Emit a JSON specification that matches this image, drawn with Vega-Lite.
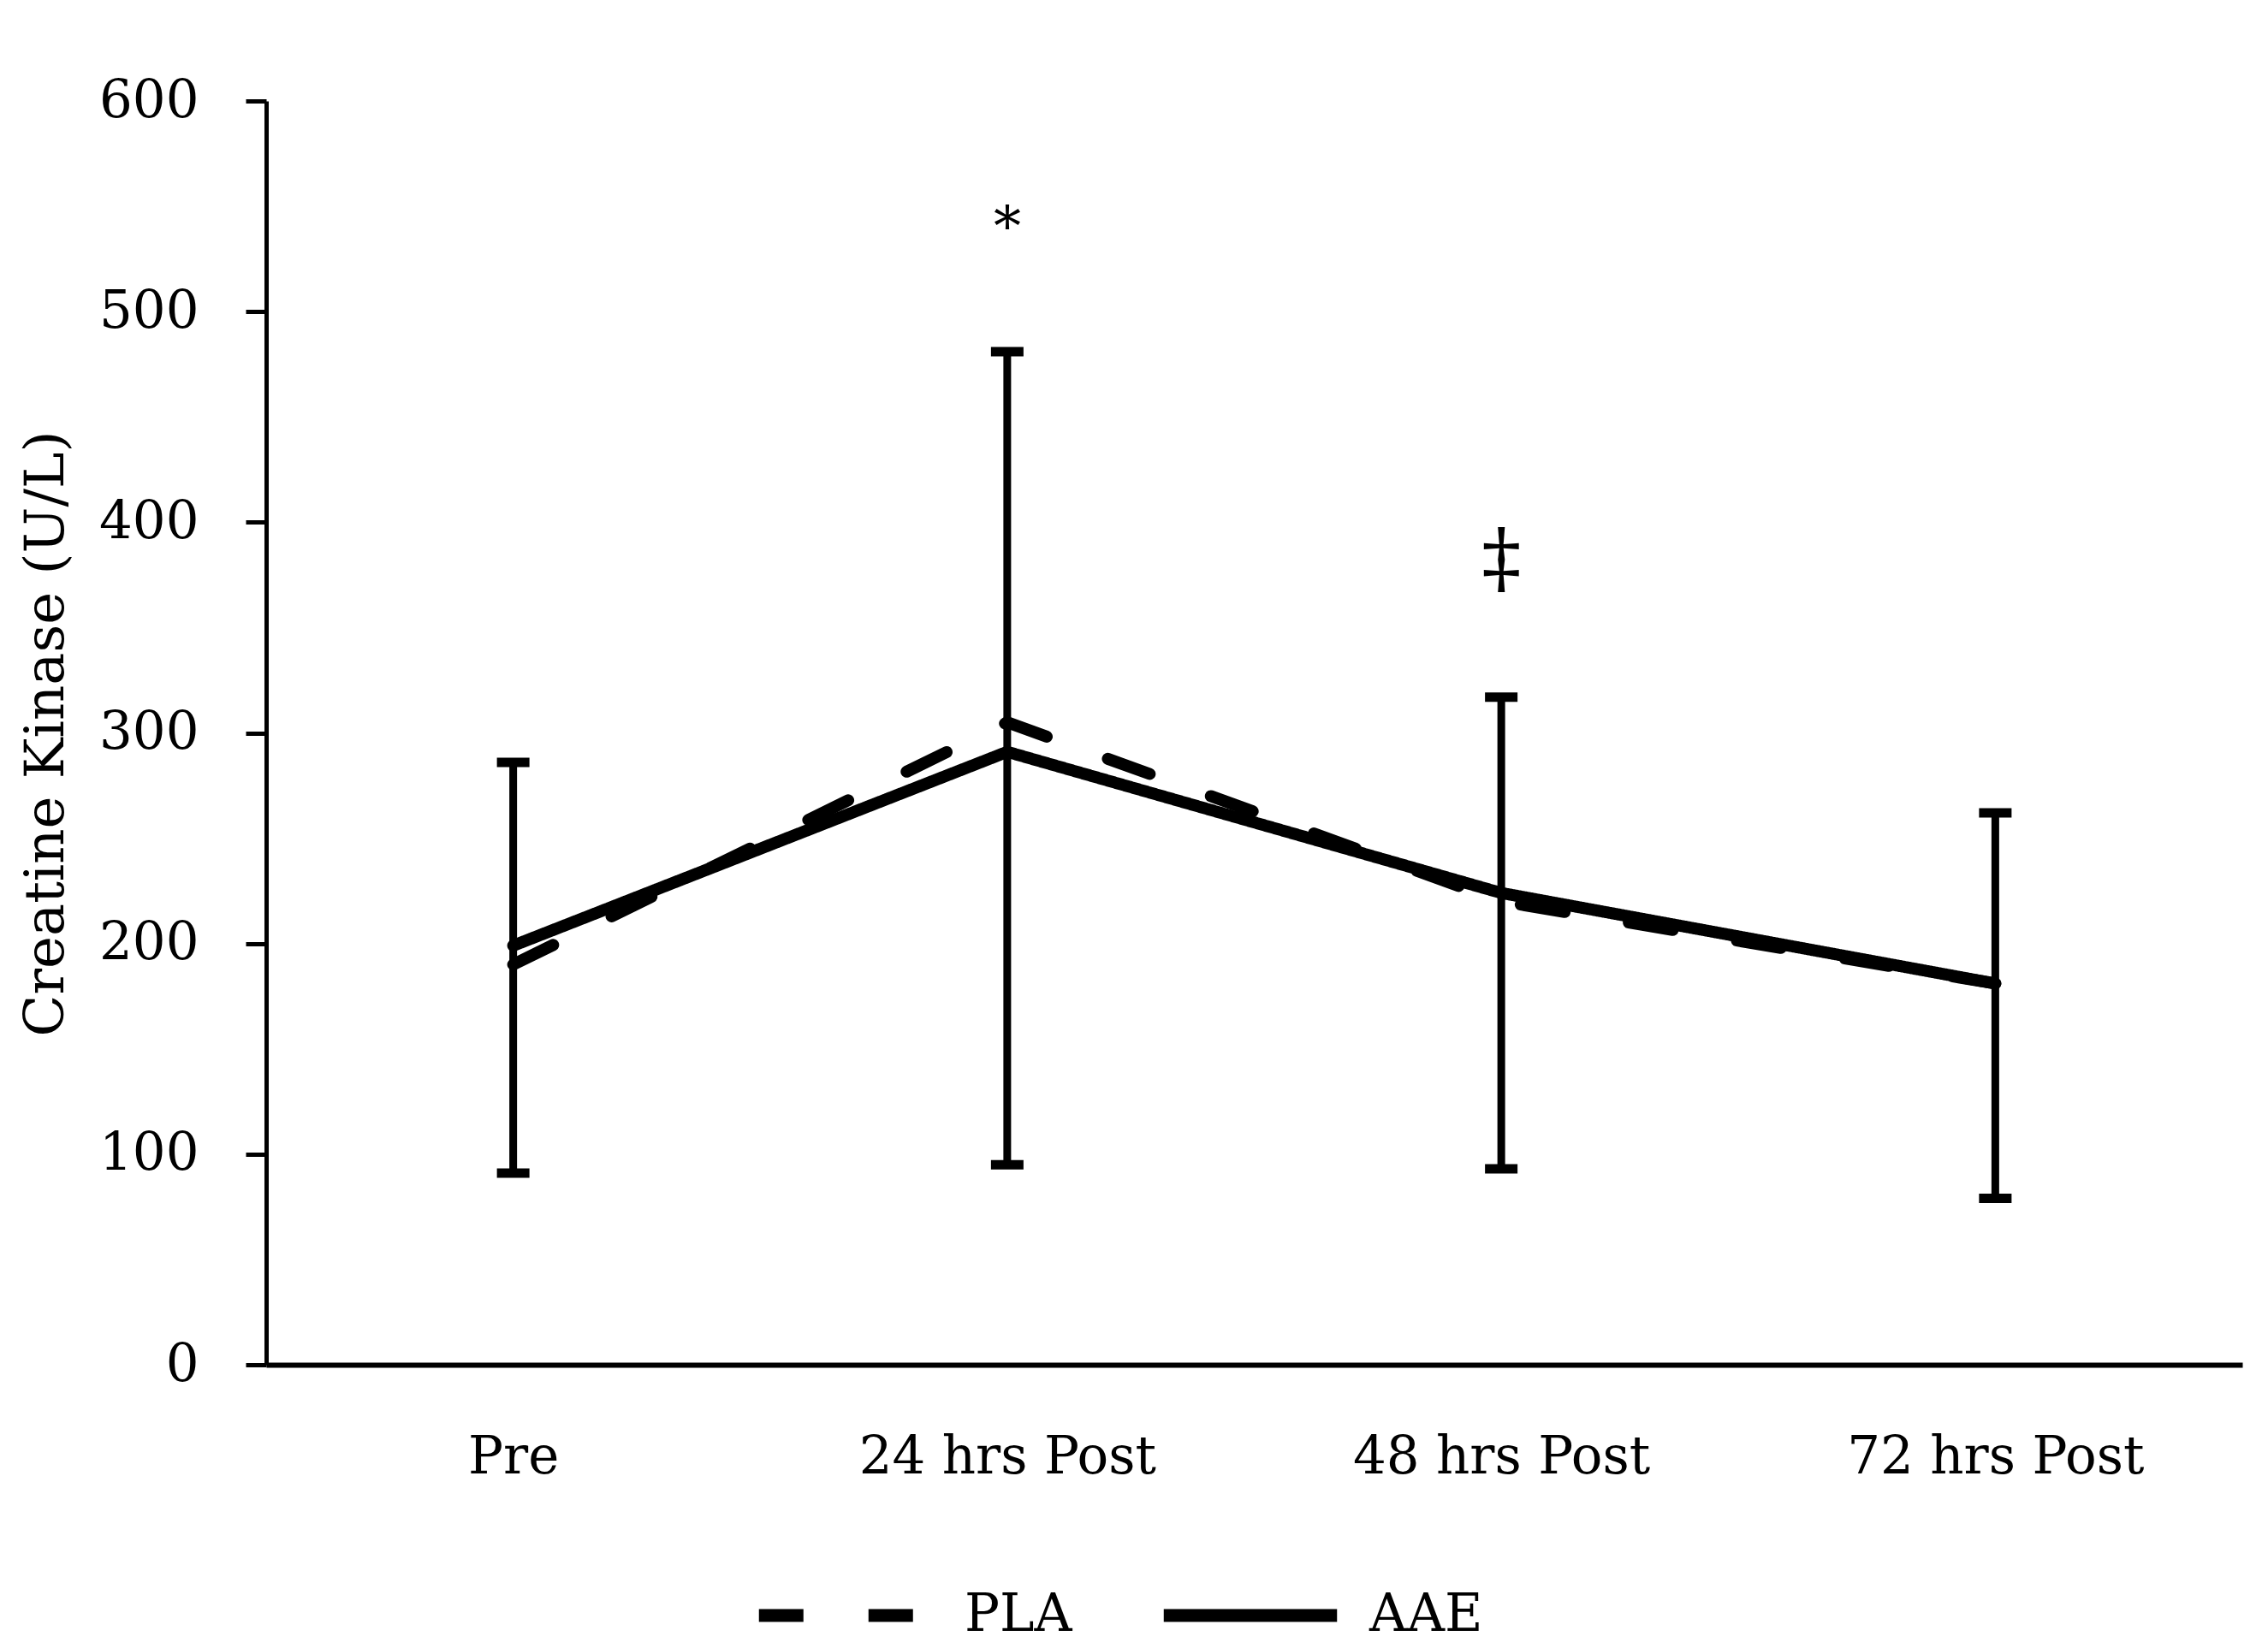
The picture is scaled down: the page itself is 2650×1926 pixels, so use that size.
{
  "$schema": "https://vega.github.io/schema/vega-lite/v6.json",
  "width": 2309,
  "height": 1477,
  "autosize": {"type": "none"},
  "padding": {"left": 311, "top": 118, "right": 30, "bottom": 331},
  "background": "white",
  "datasets": {
    "means": [
      {"time": "Pre", "group": "PLA", "ck": 190},
      {"time": "24 hrs Post", "group": "PLA", "ck": 305},
      {"time": "48 hrs Post", "group": "PLA", "ck": 220},
      {"time": "72 hrs Post", "group": "PLA", "ck": 181},
      {"time": "Pre", "group": "AAE", "ck": 199},
      {"time": "24 hrs Post", "group": "AAE", "ck": 291},
      {"time": "48 hrs Post", "group": "AAE", "ck": 224},
      {"time": "72 hrs Post", "group": "AAE", "ck": 181}
    ],
    "errors": [
      {"time": "Pre", "lo": 91, "hi": 286},
      {"time": "24 hrs Post", "lo": 95, "hi": 481},
      {"time": "48 hrs Post", "lo": 93, "hi": 317},
      {"time": "72 hrs Post", "lo": 79, "hi": 262}
    ],
    "star": [
      {"time": "24 hrs Post", "y": 539, "label": "*"}
    ],
    "dagger": [
      {"time": "48 hrs Post", "y": 382, "label": "‡"}
    ]
  },
  "layer": [
    {
      "data": {"name": "errors"},
      "mark": {"type": "rule", "color": "black", "strokeWidth": 9},
      "encoding": {
        "x": {"field": "time", "type": "nominal", "title": null, "sort": ["Pre", "24 hrs Post", "48 hrs Post", "72 hrs Post"], "scale": {"type": "point", "padding": 0.5}},
        "y": {"field": "lo", "type": "quantitative", "title": "Creatine Kinase (U/L)", "scale": {"domain": [0, 600], "nice": false}, "axis": {"values": [0, 100, 200, 300, 400, 500, 600]}},
        "y2": {"field": "hi"}
      }
    },
    {
      "data": {"name": "errors"},
      "mark": {"type": "tick", "color": "black", "opacity": 1, "size": 38, "thickness": 11, "orient": "horizontal"},
      "encoding": {
        "x": {"field": "time", "type": "nominal", "title": null, "sort": ["Pre", "24 hrs Post", "48 hrs Post", "72 hrs Post"]},
        "y": {"field": "lo", "type": "quantitative", "title": "Creatine Kinase (U/L)"}
      }
    },
    {
      "data": {"name": "errors"},
      "mark": {"type": "tick", "color": "black", "opacity": 1, "size": 38, "thickness": 11, "orient": "horizontal"},
      "encoding": {
        "x": {"field": "time", "type": "nominal", "title": null, "sort": ["Pre", "24 hrs Post", "48 hrs Post", "72 hrs Post"]},
        "y": {"field": "hi", "type": "quantitative", "title": "Creatine Kinase (U/L)"}
      }
    },
    {
      "data": {"name": "means"},
      "mark": {"type": "line", "color": "black", "strokeWidth": 14, "strokeCap": "round"},
      "encoding": {
        "x": {"field": "time", "type": "nominal", "title": null, "sort": ["Pre", "24 hrs Post", "48 hrs Post", "72 hrs Post"]},
        "y": {"field": "ck", "type": "quantitative", "title": "Creatine Kinase (U/L)"},
        "strokeDash": {
          "field": "group",
          "type": "nominal",
          "scale": {"domain": ["PLA", "AAE"], "range": [[52, 76], [1, 0]]},
          "legend": {"title": null}
        }
      }
    },
    {
      "data": {"name": "star"},
      "mark": {"type": "text", "color": "black", "font": "DejaVu Serif", "fontSize": 64, "baseline": "middle", "align": "center"},
      "encoding": {
        "x": {"field": "time", "type": "nominal", "title": null, "sort": ["Pre", "24 hrs Post", "48 hrs Post", "72 hrs Post"]},
        "y": {"field": "y", "type": "quantitative", "title": "Creatine Kinase (U/L)"},
        "text": {"field": "label"}
      }
    },
    {
      "data": {"name": "dagger"},
      "mark": {"type": "text", "color": "black", "font": "DejaVu Serif", "fontSize": 92, "baseline": "middle", "align": "center"},
      "encoding": {
        "x": {"field": "time", "type": "nominal", "title": null, "sort": ["Pre", "24 hrs Post", "48 hrs Post", "72 hrs Post"]},
        "y": {"field": "y", "type": "quantitative", "title": "Creatine Kinase (U/L)"},
        "text": {"field": "label"}
      }
    }
  ],
  "config": {
    "view": {"stroke": null},
    "font": "DejaVu Serif",
    "axis": {
      "grid": false,
      "labelFont": "DejaVu Serif",
      "labelFontSize": 61,
      "labelColor": "black",
      "labelLimit": 0,
      "titleFont": "DejaVu Serif",
      "titleFontSize": 64,
      "titleFontWeight": "normal",
      "titleColor": "black",
      "domainColor": "black",
      "tickColor": "black"
    },
    "axisX": {"ticks": false, "domainWidth": 6, "labelPadding": 78, "labelAngle": 0},
    "axisY": {
      "tickSize": 24,
      "tickWidth": 5,
      "domainWidth": 5,
      "labelPadding": 55,
      "titleX": -257,
      "titleY": 739,
      "titleBaseline": "middle",
      "titleAlign": "center"
    },
    "legend": {
      "orient": "none",
      "legendX": 568,
      "legendY": 1661,
      "direction": "horizontal",
      "symbolType": "stroke",
      "symbolSize": 41000,
      "symbolStrokeWidth": 15,
      "symbolStrokeColor": "black",
      "labelFont": "DejaVu Serif",
      "labelFontSize": 61,
      "labelColor": "black",
      "labelOffset": 30,
      "columnPadding": 76
    }
  }
}
